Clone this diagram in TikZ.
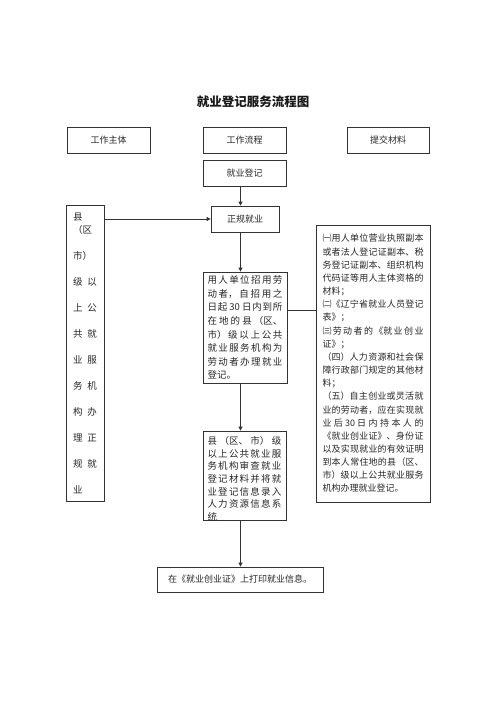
\documentclass[tikz,border=0pt]{standalone}
\usepackage{fontspec}
\setmainfont{Noto Sans CJK SC}
\usetikzlibrary{arrows.meta}
\XeTeXlinebreaklocale "zh"
\XeTeXlinebreakskip=0pt plus 1pt
\newcommand{\fillline}[2]{\parbox[t]{#1}{\parfillskip=0pt\XeTeXlinebreakskip=0pt plus 1fil #2}}
\tikzset{every picture/.style={line width=0.7pt}}
\tikzset{
  flowbox/.style={draw=black!80, inner sep=0pt, text=black!85, font=\fontsize{9}{11}\selectfont},
  arr/.style={draw=black!80, -{Triangle[length=4pt,width=4pt]}},
  joinline/.style={draw=black!80},
}

\begin{document}
\begin{tikzpicture}[x=1pt,y=-1pt]
\useasboundingbox (0,0) rectangle (500,707);
\node[text=black!90, font=\fontsize{12.5}{14}\selectfont\bfseries] (title) at (253,102) {就业登记服务流程图};
%
\node[flowbox, minimum width=83, minimum height=26] (zhuti) at (108.5,140) {工作主体};
\node[flowbox, minimum width=83, minimum height=26] (liucheng) at (244.5,140) {工作流程};
\node[flowbox, minimum width=82, minimum height=26] (cailiao) at (388,140) {提交材料};
\node[flowbox, minimum width=83, minimum height=26] (dengji) at (244.5,173) {就业登记};
\node[flowbox, minimum width=68, minimum height=26] (zhenggui) at (245,219) {正规就业};
%
\node[flowbox, minimum width=38, minimum height=296, align=left, font=\fontsize{9.5}{13}\selectfont] (jigou) at (85,353)
  {县\\（区\\[13pt]市）\\[13pt]级\hspace{5pt}以\\[13pt]上\hspace{5pt}公\\[13pt]共\hspace{5pt}就\\[13pt]业\hspace{5pt}服\\[13pt]务\hspace{5pt}机\\[13pt]构\hspace{5pt}办\\[13pt]理\hspace{5pt}正\\[13pt]规\hspace{5pt}就\\[13pt]业};
%
\node[flowbox, minimum width=84, minimum height=111, align=left, font=\fontsize{9.5}{13.6}\selectfont] (zhaoyong) at (245,327.5)
  {\fillline{75pt}{用人单位招用劳}\\
   \fillline{75pt}{动者，自招用之}\\
   \fillline{75pt}{日起 30 日内到所}\\
   \fillline{75pt}{在地的县（区、}\\
   \fillline{75pt}{市）级以上公共}\\
   \fillline{75pt}{就业服务机构为}\\
   \fillline{75pt}{劳动者办理就业}\\
   登记。};
%
\node[flowbox, minimum width=114, minimum height=277, align=left, font=\fontsize{9}{13.16}\selectfont] (ziliao) at (373,363.5)
  {\fillline{101pt}{㈠用人单位营业执照副本}\\
   \fillline{101pt}{或者法人登记证副本、税}\\
   \fillline{101pt}{务登记证副本、组织机构}\\
   \fillline{101pt}{代码证等用人主体资格的}\\
   材料；\\
   \fillline{101pt}{㈡《辽宁省就业人员登记}\\
   表》；\\
   \fillline{101pt}{㈢劳动者的《就业创业}\\
   证》；\\
   \fillline{101pt}{（四）人力资源和社会保}\\
   \fillline{101pt}{障行政部门规定的其他材}\\
   料；\\
   \fillline{101pt}{（五）自主创业或灵活就}\\
   \fillline{101pt}{业的劳动者，应在实现就}\\
   \fillline{101pt}{业后 30 日内持本人的}\\
   \fillline{101pt}{《就业创业证》、身份证}\\
   \fillline{101pt}{以及实现就业的有效证明}\\
   \fillline{101pt}{到本人常住地的县（区、}\\
   \fillline{101pt}{市）级以上公共就业服务}\\
   机构办理就业登记。};
%
\node[flowbox, minimum width=83, minimum height=89] (shencha) at (244.5,475.5) {};
\begin{scope}
\clip (shencha.north west) rectangle (shencha.south east);
\node[anchor=north, align=left, inner sep=0pt, text=black!85, font=\fontsize{9.5}{12.6}\selectfont] (shenchatext) at ([yshift=-5.5pt]shencha.north)
  {\fillline{74pt}{县（区、市）级}\\
   \fillline{74pt}{以上公共就业服}\\
   \fillline{74pt}{务机构审查就业}\\
   \fillline{74pt}{登记材料并将就}\\
   \fillline{74pt}{业登记信息录入}\\
   \fillline{74pt}{人力资源信息系}\\
   统};
\end{scope}
%
\node[flowbox, minimum width=166, minimum height=25] (dayin) at (240,579.5) {在《就业创业证》上打印就业信息。};
%
\coordinate (spine) at (240.5,0);
\coordinate (tie) at (0,310);
\draw[arr] (dengji.south -| spine) -- (zhenggui.north -| spine);
\draw[arr] (jigou.east |- zhenggui.west) -- (zhenggui.west);
\draw[arr] (zhenggui.south -| spine) -- (zhaoyong.north -| spine);
\draw[joinline] (zhaoyong.east |- tie) -- (ziliao.west |- tie);
\draw[arr] (zhaoyong.south -| spine) -- (shencha.north -| spine);
\draw[arr] (shencha.south -| spine) -- (dayin.north -| spine);
\end{tikzpicture}
\end{document}
